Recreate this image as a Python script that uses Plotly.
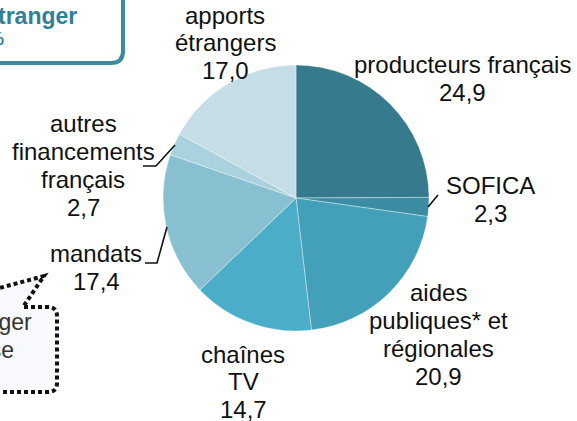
import plotly.graph_objects as go

W, H = 577, 421

categories = ["producteurs français", "SOFICA", "aides publiques* et régionales",
              "chaînes TV", "mandats", "autres financements français", "apports étrangers"]
values = [24.9, 2.3, 20.9, 14.7, 17.4, 2.7, 17.0]
colors = ["#357B8D", "#3A8DA3", "#44A0B8", "#4BADC7", "#88C0D2", "#AAD2DE", "#C5DDE6"]

# label lines (text) per category
label_lines = [
    ["producteurs français"],
    ["SOFICA"],
    ["aides", "publiques* et", "régionales"],
    ["chaînes", "TV"],
    ["mandats"],
    ["autres", "financements", "français"],
    ["apports", "étrangers"],
]
# label anchors in pixels: (center x, first line y, line spacing)
label_pos = [
    (462, 64, 28),
    (490, 186, 27),
    (438, 292, 28),
    (243, 354, 27.5),
    (96, 253, 28),
    (83, 124, 27.7),
    (225, 15, 27.5),
]

def px(x):
    return x / W

def py(y):
    return 1 - y / H

def fmt(v):
    return f"{v:.1f}".replace(".", ",")

FONT = "Liberation Sans, Arial, sans-serif"
FS = 24

fig = go.Figure()
fig.add_trace(go.Pie(
    labels=categories, values=values, sort=False, direction="clockwise", rotation=0,
    marker=dict(colors=colors, line=dict(color="rgba(255,255,255,0.45)", width=0.8)),
    textinfo="none", hoverinfo="label+value", showlegend=False,
    domain=dict(x=[px(296 - 133), px(296 + 133)], y=[py(198 + 133), py(198 - 133)]),
))

annotations = []
for lines, v, (cx, y0, dy) in zip(label_lines, values, label_pos):
    all_lines = lines + [fmt(v)]
    for i, t in enumerate(all_lines):
        annotations.append(dict(
            text=t, x=px(cx), y=py(y0 + i * dy), xref="paper", yref="paper",
            xanchor="center", yanchor="middle", showarrow=False,
            font=dict(family=FONT, size=FS, color="#111111")))

# cut-off callout texts
annotations += [
    dict(text="<b>Part de l'étranger</b>", x=px(79), y=py(16), xref="paper", yref="paper",
         xanchor="right", yanchor="middle", showarrow=False,
         font=dict(family=FONT, size=23, color="#2F8098")),
    dict(text="<b>17,0 %</b>", x=px(6), y=py(39), xref="paper", yref="paper",
         xanchor="right", yanchor="middle", showarrow=False,
         font=dict(family=FONT, size=18, color="#2F8098")),
    dict(text="coproduction étranger", x=px(34), y=py(322), xref="paper", yref="paper",
         xanchor="right", yanchor="middle", showarrow=False,
         font=dict(family=FONT, size=23, color="#333333")),
    dict(text="majoritaire française", x=px(16), y=py(350), xref="paper", yref="paper",
         xanchor="right", yanchor="middle", showarrow=False,
         font=dict(family=FONT, size=23, color="#333333")),
]

shapes = []
def seg(points, color="#111111", width=1.6):
    d = "M " + " L ".join(f"{px(x):.5f},{py(y):.5f}" for x, y in points)
    shapes.append(dict(type="path", path=d, xref="paper", yref="paper",
                       line=dict(color=color, width=width)))

# leader lines
seg([(428, 207), (438, 195)])
seg([(143, 166), (156, 166), (175, 145)])
seg([(145, 263), (157, 263), (167, 227)])

# top-left rounded box (mostly off-canvas)
r = 12
box = (f"M {px(-200)},{py(63)} L {px(123 - r)},{py(63)} "
       f"Q {px(123)},{py(63)} {px(123)},{py(63 - r)} L {px(123)},{py(-20)}")
shapes.append(dict(type="path", path=box, xref="paper", yref="paper",
                   line=dict(color="#3A8AA0", width=4)))

# dotted callout box with tail (mostly off-canvas)
r2 = 9
call = (f"M {px(-200)},{py(392)} L {px(57 - r2)},{py(392)} "
        f"Q {px(57)},{py(392)} {px(57)},{py(392 - r2)} "
        f"L {px(57)},{py(307 + r2)} Q {px(57)},{py(307)} {px(57 - r2)},{py(307)} "
        f"L {px(23)},{py(307)} L {px(44)},{py(276)} L {px(-30)},{py(296)}")
shapes.insert(0, dict(type="path", path=call + " Z", xref="paper", yref="paper",
                      fillcolor="#F8F9FC", line=dict(width=0)))
shapes.append(dict(type="path", path=call, xref="paper", yref="paper",
                   line=dict(color="#111111", width=4, dash="4px,3px")))

fig.update_layout(
    width=W, height=H, margin=dict(l=0, r=0, t=0, b=0),
    paper_bgcolor="white", plot_bgcolor="white",
    annotations=annotations, shapes=shapes,
)
fig.write_html("out.html", config={"displayModeBar": False},
               post_script="document.body.style.margin='0';document.body.style.overflow='hidden';")
